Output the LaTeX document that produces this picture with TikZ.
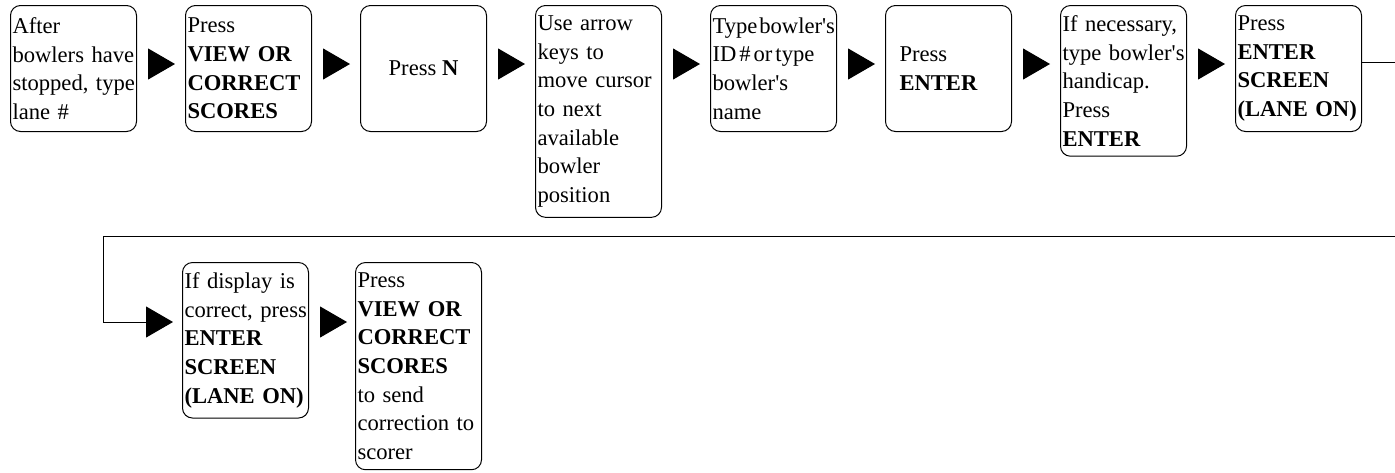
\documentclass[tikz,border=0pt]{standalone}
\usepackage{fontspec}
\setmainfont{Liberation Serif}
\usetikzlibrary{positioning,arrows.meta}
\newcommand{\apos}{\textquotesingle}

\begin{document}
\begin{tikzpicture}[
  font=\fontsize{11.3}{14.35}\selectfont,
  box/.style={draw,rounded corners=5pt,line width=0.5pt,minimum width=63pt,minimum height=63pt,inner xsep=1pt,inner ysep=5pt,align=left,anchor=north west},
  txt/.style={box,text width=61pt},
  ar/.style={-{Triangle[length=13.5pt,width=15.5pt]},line width=0.5pt,shorten <=5.5pt,shorten >=5pt},
  wrap/.style={line width=0.5pt}
]
\useasboundingbox (0,0) rectangle (697.5pt,-236pt);
\node[txt] (b1) at (5pt,-2.5pt) {After\\bowlers~have\\stopped,~type\\lane~\#};
\node[txt,right=24pt of b1.north east,anchor=north west] (b2) {Press\\\textbf{VIEW~OR}\\\textbf{CORRECT}\\\textbf{SCORES}};
\node[box,right=24pt of b2.north east,anchor=north west] (b3) {Press \textbf{N}};
\node[txt,right=24pt of b3.north east,anchor=north west] (b4) {Use~arrow\\keys~to\\move~cursor\\to~next\\available\\bowler\\position};
\node[txt,right=24pt of b4.north east,anchor=north west] (b5) {\mbox{Type\hspace{1pt}bowler\apos s}\\\mbox{ID\hspace{1.5pt}\#\hspace{1.5pt}or\hspace{1.5pt}type}\\bowler\apos s\\name};
\node[txt,inner xsep=7pt,text width=49pt,right=24pt of b5.north east,anchor=north west] (b6) {Press\\\textbf{ENTER}};
\node[txt,right=24pt of b6.north east,anchor=north west] (b7) {If~necessary,\\type~bowler\apos s\\handicap.\\Press\\\textbf{ENTER}};
\node[txt,right=24pt of b7.north east,anchor=north west] (b8) {Press\\\textbf{ENTER}\\\textbf{SCREEN}\\\textbf{(LANE~ON)}};
\node[txt] (b9) at (91pt,-131pt) {If~display~is\\correct,~press\\\textbf{ENTER}\\\textbf{SCREEN}\\\textbf{(LANE~ON)}};
\node[txt,right=23pt of b9.north east,anchor=north west] (b10) {Press\\\textbf{VIEW~OR}\\\textbf{CORRECT}\\\textbf{SCORES}\\to~send\\correction~to\\scorer};
\coordinate (turn) at ([xshift=-39.5pt,yshift=13pt]b9.north west);

\draw[ar] ([yshift=-29.5pt]b1.north east) -- ([yshift=-29.5pt]b2.north west);
\draw[ar] ([yshift=-29.5pt]b2.north east) -- ([yshift=-29.5pt]b3.north west);
\draw[ar] ([yshift=-29.5pt]b3.north east) -- ([yshift=-29.5pt]b4.north west);
\draw[ar] ([yshift=-29.5pt]b4.north east) -- ([yshift=-29.5pt]b5.north west);
\draw[ar] ([yshift=-29.5pt]b5.north east) -- ([yshift=-29.5pt]b6.north west);
\draw[ar] ([yshift=-29.5pt]b6.north east) -- ([yshift=-29.5pt]b7.north west);
\draw[ar] ([yshift=-29.5pt]b7.north east) -- ([yshift=-29.5pt]b8.north west);
\draw[wrap] ([yshift=3pt]b8.east) -- ++(25pt,0) |- (turn);
\draw[ar,shorten <=0pt,shorten >=4.5pt] (turn) |- ([yshift=-30pt]b9.north west);
\draw[ar,shorten <=5.5pt,shorten >=4pt] ([yshift=-30pt]b9.north east) -- ([yshift=-30pt]b10.north west);
\end{tikzpicture}
\end{document}
